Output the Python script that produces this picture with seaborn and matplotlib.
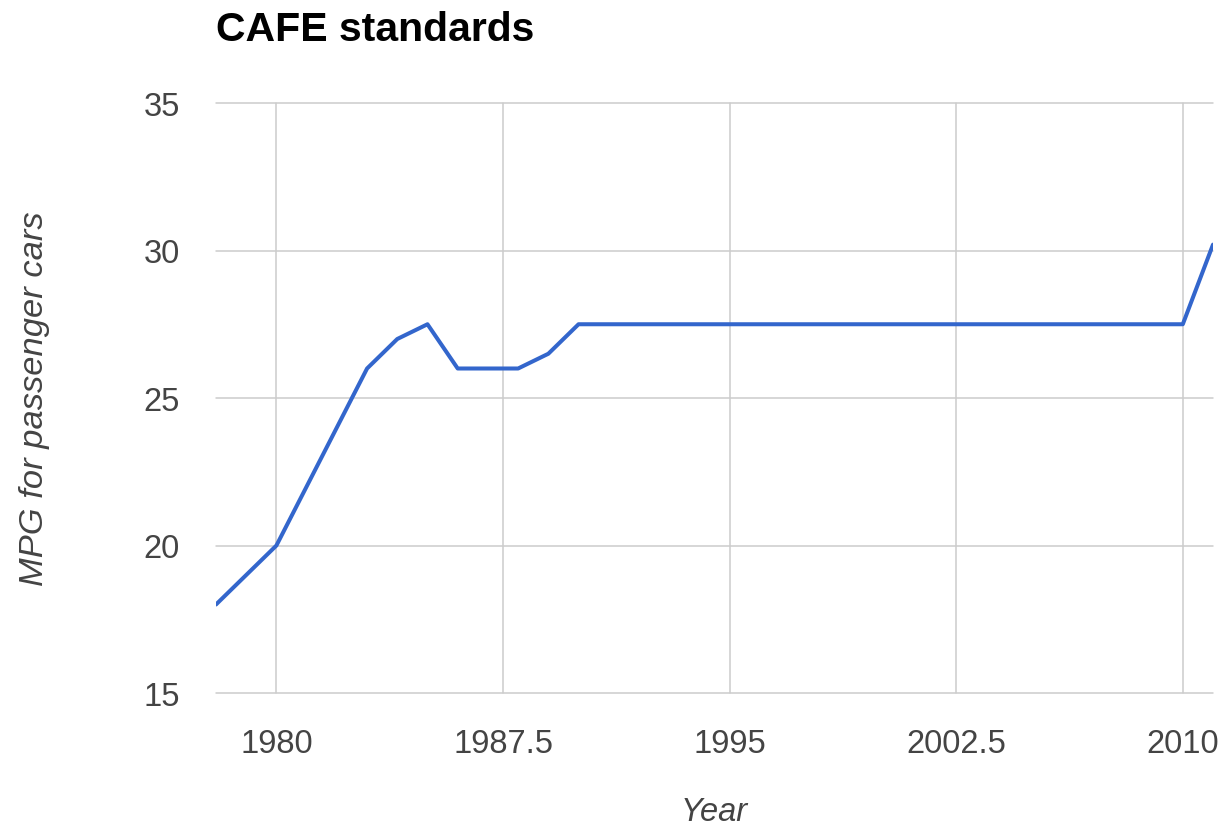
import matplotlib
matplotlib.use("Agg")
import matplotlib.pyplot as plt
import seaborn as sns
import pandas as pd

# CAFE passenger car fuel economy standards (MPG) by model year
years = [1978, 1979, 1980, 1981, 1982, 1983, 1984, 1985, 1986, 1987, 1988, 1989,
         1990, 1991, 1992, 1993, 1994, 1995, 1996, 1997, 1998, 1999, 2000, 2001,
         2002, 2003, 2004, 2005, 2006, 2007, 2008, 2009, 2010, 2011]
mpg = [18.0, 19.0, 20.0, 22.0, 24.0, 26.0, 27.0, 27.5, 26.0, 26.0, 26.0, 26.5,
       27.5, 27.5, 27.5, 27.5, 27.5, 27.5, 27.5, 27.5, 27.5, 27.5, 27.5, 27.5,
       27.5, 27.5, 27.5, 27.5, 27.5, 27.5, 27.5, 27.5, 27.5, 30.2]

x_ticks = [1980, 1987.5, 1995, 2002.5, 2010]
x_tick_labels = ["1980", "1987.5", "1995", "2002.5", "2010"]
y_ticks = [15, 20, 25, 30, 35]

df = pd.DataFrame({"Year": years, "MPG": mpg})

sns.set_theme(style="white")
plt.rcParams["font.family"] = ["Liberation Sans", "DejaVu Sans"]

W, H = 1225, 828
left, right, top, bottom = 216, 1213, 104, 694

fig = plt.figure(figsize=(W / 100, H / 100), dpi=100)
ax = fig.add_axes([left / W, 1 - bottom / H, (right - left) / W, (bottom - top) / H])

sns.lineplot(data=df, x="Year", y="MPG", ax=ax, color="#3366cc", linewidth=2.9)

ax.set_xlim(1978, 2011)
ax.set_ylim(15, 35)
ax.set_xticks(x_ticks)
ax.set_xticklabels(x_tick_labels)
ax.set_yticks(y_ticks)

ax.grid(True, color="#cccccc", linewidth=1.1)
ax.set_axisbelow(True)
for gl in ax.get_ygridlines() + ax.get_xgridlines():
    gl.set_clip_on(False)
for s in ax.spines.values():
    s.set_visible(False)

ax.tick_params(axis="both", length=0, labelsize=23.5, labelcolor="#444444")
ax.tick_params(axis="x", pad=25)
ax.tick_params(axis="y", pad=26)

ax.set_xlabel("Year", fontsize=23.5, fontstyle="italic", color="#444444")
ax.set_ylabel("MPG for passenger cars", fontsize=24.8, fontstyle="italic", color="#444444")
ax.xaxis.set_label_coords(0.5, -(813 - bottom) / (bottom - top), transform=ax.transAxes)
ax.yaxis.set_label_coords(-(left - 35) / (right - left), 0.5, transform=ax.transAxes)
ax.xaxis.label.set_verticalalignment("center")
ax.yaxis.label.set_verticalalignment("center")

fig.text(left / W, 1 - 30 / H, "CAFE standards", fontsize=29.5, fontweight="bold",
         color="#000000", ha="left", va="center")

fig.savefig("out.png", dpi=100, facecolor="white")
